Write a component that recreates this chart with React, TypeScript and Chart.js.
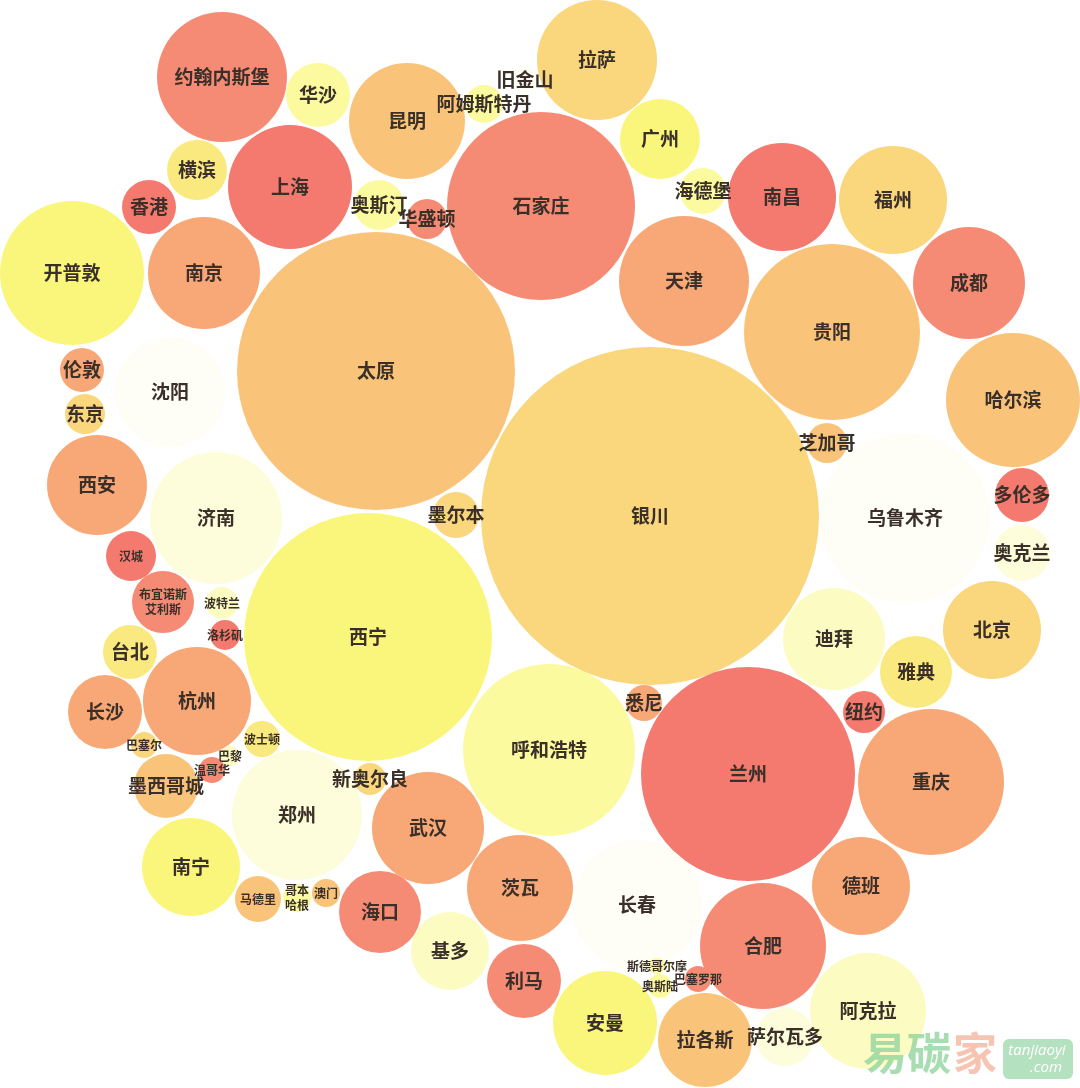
import React, { useEffect, useRef } from "react";
import { Chart, registerables } from "chart.js";

Chart.register(...registerables);

// ---- data ----
const cities = [
  "约翰内斯堡", "华沙", "昆明", "旧金山", "阿姆斯特丹", "拉萨", "广州", "横滨", "上海", "香港",
  "奥斯汀", "华盛顿", "石家庄", "海德堡", "南昌", "福州", "开普敦", "南京", "天津", "成都",
  "贵阳", "伦敦", "沈阳", "太原", "东京", "哈尔滨", "芝加哥", "西安", "济南", "墨尔本",
  "银川", "乌鲁木齐", "多伦多", "汉城", "奥克兰", "布宜诺斯艾利斯", "波特兰", "西宁", "洛杉矶", "台北",
  "迪拜", "北京", "雅典", "悉尼", "杭州", "长沙", "巴塞尔", "波士顿", "巴黎", "温哥华",
  "纽约", "呼和浩特", "墨西哥城", "新奥尔良", "兰州", "重庆", "郑州", "武汉", "南宁", "马德里",
  "哥本哈根", "澳门", "海口", "茨瓦", "德班", "长春", "合肥", "基多", "利马", "斯德哥尔摩",
  "奥斯陆", "巴塞罗那", "安曼", "拉各斯", "阿克拉", "萨尔瓦多",
];
const xs = [
  222, 318, 407, 525, 484, 597, 660, 197, 290, 149,
  379, 427, 541, 703, 782, 893, 72, 204, 684, 969,
  832, 82, 170, 376, 85, 1013, 827, 97, 216, 456,
  650, 905, 1022, 131, 1022, 163, 222, 368, 225, 130,
  834, 992, 916, 644, 197, 105, 144, 262, 230, 212,
  864, 549, 166, 370, 748, 931, 297, 428, 191, 258,
  297, 326, 380, 520, 861, 637, 763, 450, 524, 657,
  660, 698, 605, 705, 868, 785,
];
const ys = [
  77, 95, 121, 80, 104, 60, 139, 170, 187, 207,
  205, 219, 206, 191, 197, 200, 273, 273, 281, 283,
  332, 370, 392, 371, 414, 400, 443, 485, 518, 515,
  516, 518, 495, 556, 553, 602, 603, 637, 635, 652,
  639, 630, 672, 703, 701, 712, 745, 739, 756, 770,
  712, 750, 786, 779, 774, 782, 815, 828, 867, 899,
  898, 893, 912, 888, 886, 905, 946, 951, 981, 966,
  986, 979, 1023, 1040, 1011, 1037,
];
const rs = [
  65, 32, 58, 14, 19, 60, 40, 30, 62, 27,
  25, 20, 94, 23, 54, 54, 72, 56, 65, 56,
  88, 22, 55, 139, 20, 67, 20, 50, 66, 23,
  169, 85, 27, 25, 28, 31, 16, 124, 15, 27,
  51, 49, 36, 18, 54, 37, 13, 18, 10, 13,
  21, 86, 32, 16, 107, 73, 65, 56, 49, 23,
  14, 14, 41, 53, 49, 65, 63, 39, 37, 8,
  12, 13, 52, 47, 58, 29,
];
// heat level 0 (palest) .. 10 (reddest)
const levels = [
  9, 3, 7, 0, 3, 6, 4, 5, 10, 10,
  3, 9, 9, 3, 10, 6, 4, 8, 8, 9,
  7, 8, 0, 7, 6, 7, 7, 8, 1, 6,
  6, 0, 10, 10, 1, 9, 2, 4, 10, 5,
  2, 6, 5, 8, 8, 8, 6, 5, 2, 9,
  10, 3, 7, 6, 10, 8, 1, 8, 4, 7,
  3, 7, 9, 8, 8, 0, 9, 2, 9, 3,
  3, 9, 4, 7, 2, 1,
];

// ---- styles ----
const palette = [
  "#fefef6", "#fdfcdb", "#fcfbc2", "#fbfa9f", "#faf67b", "#fae97f",
  "#fad67c", "#f9c47a", "#f8a877", "#f68b75", "#f4796e",
];
const smallLabels = new Set([
  "汉城", "布宜诺斯艾利斯", "波特兰", "洛杉矶", "巴塞尔", "波士顿", "巴黎", "温哥华",
  "马德里", "哥本哈根", "澳门", "斯德哥尔摩", "奥斯陆", "巴塞罗那",
]);
const lineBreaks: Record<string, string[]> = {
  "布宜诺斯艾利斯": ["布宜诺斯", "艾利斯"],
  "哥本哈根": ["哥本", "哈根"],
};
const FONT = '"Noto Sans CJK SC", "Noto Sans", sans-serif';

const labelPlugin = {
  id: "bubbleLabels",
  afterDatasetsDraw(chart: any) {
    const ctx = chart.ctx as CanvasRenderingContext2D;
    const meta = chart.getDatasetMeta(0);
    ctx.save();
    ctx.textAlign = "center";
    ctx.textBaseline = "middle";
    ctx.fillStyle = "#3a3029";
    meta.data.forEach((el: any, i: number) => {
      const name = cities[i];
      const size = smallLabels.has(name) ? 12 : 19;
      ctx.font = `bold ${size}px ${FONT}`;
      const lines = lineBreaks[name] ?? [name];
      const lh = size * 1.3;
      lines.forEach((ln, k) => {
        ctx.fillText(ln, el.x, el.y + (k - (lines.length - 1) / 2) * lh);
      });
    });
    ctx.restore();
  },
};

const watermarkPlugin = {
  id: "watermark",
  afterDraw(chart: any) {
    const ctx = chart.ctx as CanvasRenderingContext2D;
    ctx.save();
    ctx.globalAlpha = 0.78;
    ctx.textBaseline = "middle";
    ctx.textAlign = "left";
    ctx.font = `bold 44px ${FONT}`;
    ctx.fillStyle = "#8fd39c";
    ctx.fillText("易碳", 863, 1053);
    ctx.fillStyle = "#f4b59c";
    ctx.fillText("家", 953, 1053);
    ctx.fillStyle = "#9fd8ad";
    ctx.beginPath();
    (ctx as any).roundRect(1003, 1039, 70, 40, 6);
    ctx.fill();
    ctx.globalAlpha = 1;
    ctx.fillStyle = "#ffffff";
    ctx.textAlign = "center";
    ctx.font = `italic 15px "Open Sans", sans-serif`;
    ctx.fillText("tanjiaoyi", 1037, 1051);
    ctx.fillText(".com", 1046, 1068);
    ctx.restore();
  },
};

export default function App() {
  const ref = useRef<HTMLCanvasElement>(null);
  useEffect(() => {
    const canvas = ref.current;
    if (!canvas) return;
    const data = cities.map((_, i) => ({ x: xs[i], y: ys[i], r: rs[i] }));
    const chart = new Chart(canvas, {
      type: "bubble",
      data: {
        datasets: [
          {
            data,
            backgroundColor: levels.map((l) => palette[l]),
            borderWidth: 0,
            hoverRadius: 0,
            clip: false as any,
          },
        ],
      },
      options: {
        animation: false,
        responsive: false,
        events: [],
        layout: { padding: 0, autoPadding: false },
        plugins: { legend: { display: false }, tooltip: { enabled: false } },
        scales: {
          x: { type: "linear", min: 0, max: 1080, display: false },
          y: { type: "linear", min: 0, max: 1088, reverse: true, display: false },
        },
      },
      plugins: [labelPlugin, watermarkPlugin],
    });
    return () => chart.destroy();
  }, []);
  return (
    <div style={{ position: "absolute", left: 0, top: 0, width: 1080, height: 1088, background: "#ffffff" }}>
      <canvas ref={ref} width={1080} height={1088} style={{ display: "block" }} />
    </div>
  );
}
